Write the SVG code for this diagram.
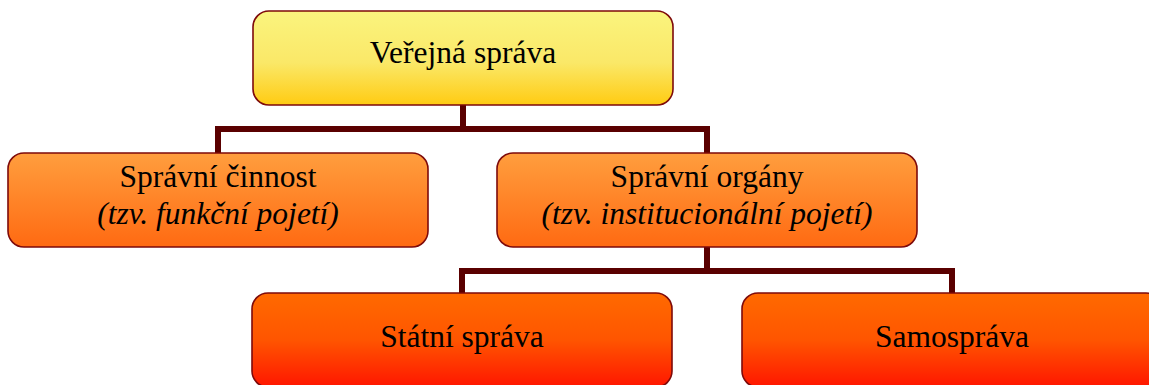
<svg xmlns="http://www.w3.org/2000/svg" width="1149" height="385" viewBox="0 0 1149 385">
  <defs>
    <linearGradient id="gTop" x1="0" y1="0" x2="0" y2="1">
      <stop offset="0" stop-color="#FAF47E"/>
      <stop offset="0.55" stop-color="#FAE868"/>
      <stop offset="1" stop-color="#FFCB12"/>
    </linearGradient>
    <linearGradient id="gMid" x1="0" y1="0" x2="0" y2="1">
      <stop offset="0" stop-color="#FF9E3E"/>
      <stop offset="1" stop-color="#FF6A12"/>
    </linearGradient>
    <linearGradient id="gBot" x1="0" y1="0" x2="0" y2="1">
      <stop offset="0" stop-color="#FF6A00"/>
      <stop offset="0.5" stop-color="#FF5500"/>
      <stop offset="1" stop-color="#FF1600"/>
    </linearGradient>
  </defs>
  <style>
    .box { stroke: #7E0A0A; stroke-width: 1.6; }
    .conn { fill: none; stroke: #5A0000; stroke-width: 6; stroke-linejoin: miter; stroke-linecap: butt; }
    text { font-family: "Liberation Serif", "Times New Roman", serif; font-size: 31.5px; fill: #000; text-anchor: middle; }
    .it { font-style: italic; }
  </style>
  <rect width="1149" height="385" fill="#fff"/>
  <g id="connectors">
    <path class="conn" d="M463 105 V129"/>
    <path class="conn" d="M218 153 V129 H707 V153"/>
    <path class="conn" d="M707 247 V271"/>
    <path class="conn" d="M462 293 V271 H952 V293"/>
  </g>
  <g id="node-verejna-sprava">
    <rect class="box" x="253" y="11" width="420" height="94" rx="16" fill="url(#gTop)"/>
    <text x="463" y="63">Veřejná správa</text>
  </g>
  <g id="node-spravni-cinnost">
    <rect class="box" x="8" y="153" width="420" height="94" rx="16" fill="url(#gMid)"/>
    <text x="218" y="187">Správní činnost</text>
    <text class="it" x="218" y="224">(tzv. funkční pojetí)</text>
  </g>
  <g id="node-spravni-organy">
    <rect class="box" x="497" y="153" width="420" height="94" rx="16" fill="url(#gMid)"/>
    <text x="707" y="187">Správní orgány</text>
    <text class="it" x="707" y="224">(tzv. institucionální pojetí)</text>
  </g>
  <g id="node-statni-sprava">
    <rect class="box" x="252" y="293" width="420" height="94" rx="16" fill="url(#gBot)"/>
    <text x="462" y="347">Státní správa</text>
  </g>
  <g id="node-samosprava">
    <rect class="box" x="742" y="293" width="420" height="94" rx="16" fill="url(#gBot)"/>
    <text x="952" y="347">Samospráva</text>
  </g>
</svg>
